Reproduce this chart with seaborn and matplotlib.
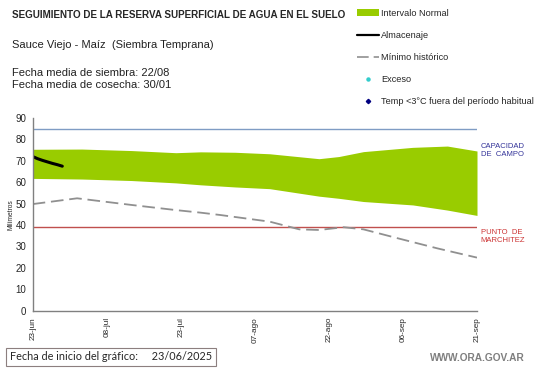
import matplotlib
matplotlib.use('Agg')
import matplotlib.pyplot as plt
from matplotlib.lines import Line2D
from matplotlib.patches import Patch
import numpy as np
import pandas as pd
import seaborn as sns

# normal range band (green)
band_dates = ['2025-06-23', '2025-07-03', '2025-07-13', '2025-07-22', '2025-07-27',
              '2025-08-03', '2025-08-10', '2025-08-20', '2025-08-24', '2025-08-29',
              '2025-09-08', '2025-09-15', '2025-09-21']
band_top = [75.4, 75.5, 74.8, 73.8, 74.2, 74.0, 73.3, 71.0, 72.0, 74.3, 76.3, 76.9, 74.6]
band_bottom = [61.8, 61.5, 60.8, 59.7, 58.8, 57.8, 57.0, 53.5, 52.5, 51.0, 49.4, 47.0, 44.5]

# historical minimum (dashed)
min_dates = ['2025-06-23', '2025-07-02', '2025-07-13', '2025-07-22', '2025-07-27',
             '2025-07-31', '2025-08-10', '2025-08-16', '2025-08-20', '2025-08-25',
             '2025-08-29', '2025-09-05', '2025-09-13', '2025-09-21']
min_values = [49.8, 52.5, 49.4, 47.0, 45.8, 44.7, 41.6, 38.0, 37.7, 39.0, 38.0, 33.8, 29.1, 24.8]

# current storage (black)
storage_dates = ['2025-06-23', '2025-06-24', '2025-06-25', '2025-06-26', '2025-06-27',
                 '2025-06-28', '2025-06-29']
storage_values = [72.0, 71.0, 70.2, 69.5, 68.8, 68.2, 67.5]

field_capacity = 85
wilting_point = 39

tick_dates = ['2025-06-23', '2025-07-08', '2025-07-23', '2025-08-07', '2025-08-22',
              '2025-09-06', '2025-09-21']
tick_labels = ['23-jun', '08-jul', '23-jul', '07-ago', '22-ago', '06-sep', '21-sep']
y_ticks = [0, 10, 20, 30, 40, 50, 60, 70, 80, 90]

sns.set_style('white')
plt.rcParams['font.family'] = ['Liberation Sans', 'DejaVu Sans']

band = pd.DataFrame({'fecha': pd.to_datetime(band_dates), 'top': band_top, 'bottom': band_bottom})
minimo = pd.DataFrame({'fecha': pd.to_datetime(min_dates), 'mm': min_values})
storage = pd.DataFrame({'fecha': pd.to_datetime(storage_dates), 'mm': storage_values})

fig = plt.figure(figsize=(5.41, 3.68), dpi=100)
ax = fig.add_axes([0.0604, 0.1557, 0.8213, 0.5236])

green = '#99cc00'
ax.fill_between(band['fecha'], band['bottom'], band['top'], color=green, lw=0)
ax.axhline(field_capacity, color='#7f9cc4', lw=1)
ax.axhline(wilting_point, color='#c0504d', lw=1)
sns.lineplot(data=minimo, x='fecha', y='mm', ax=ax, color='#909090', lw=1.3,
             linestyle=(0, (7, 3.2)))
sns.lineplot(data=storage, x='fecha', y='mm', ax=ax, color='black', lw=2.2)

ax.set_xlim(pd.Timestamp(tick_dates[0]), pd.Timestamp(tick_dates[-1]))
ax.set_ylim(0, 90)
ax.set_xticks(pd.to_datetime(tick_dates))
ax.set_xticklabels(tick_labels, rotation=90, fontsize=5.9)
ax.set_yticks(y_ticks)
ax.set_yticklabels([str(v) for v in y_ticks], fontsize=7)
ax.tick_params(axis='both', direction='out', length=3, width=0.8, color='#808080', pad=1.5)
ax.set_xlabel('')
ax.set_ylabel('Milímetros', fontsize=4.8, labelpad=1)
for side in ['top', 'right']:
    ax.spines[side].set_visible(False)
for side in ['left', 'bottom']:
    ax.spines[side].set_color('#808080')
    ax.spines[side].set_linewidth(1)

ax.text(1.008, (field_capacity - 10) / 90, 'CAPACIDAD\nDE  CAMPO', transform=ax.transAxes,
        fontsize=5.5, color='#333399', va='center', ha='left', linespacing=1.2)
ax.text(1.008, (wilting_point - 4.5) / 90, 'PUNTO  DE\nMARCHITEZ', transform=ax.transAxes,
        fontsize=5.5, color='#cc3333', va='center', ha='left', linespacing=1.2)

fig.text(12 / 541, 1 - 15 / 368, 'SEGUIMIENTO DE LA RESERVA SUPERFICIAL DE AGUA EN EL SUELO',
         fontsize=7.1, weight='bold', va='center', ha='left')
fig.text(12 / 541, 1 - 45 / 368, 'Sauce Viejo - Maíz  (Siembra Temprana)',
         fontsize=8, va='center', ha='left', color='#222222')
fig.text(12 / 541, 1 - 72.5 / 368, 'Fecha media de siembra: 22/08',
         fontsize=8, va='center', ha='left', color='#222222')
fig.text(12 / 541, 1 - 85.5 / 368, 'Fecha media de cosecha: 30/01',
         fontsize=8, va='center', ha='left', color='#222222')

handles = [
    Patch(facecolor=green, edgecolor='none'),
    Line2D([], [], color='black', lw=1.6),
    Line2D([], [], color='#909090', lw=1.2, linestyle=(0, (7, 3))),
    Line2D([], [], color='#33cccc', marker='o', markersize=2.2, linestyle='none'),
    Line2D([], [], color='#000080', marker='D', markersize=2.2, linestyle='none'),
]
labels = ['Intervalo Normal', 'Almacenaje', 'Mínimo histórico', 'Exceso',
          'Temp <3°C fuera del período habitual']
fig.legend(handles, labels, loc='upper left', bbox_to_anchor=(357 / 541, 1 - 9 / 368),
           frameon=False, fontsize=6.6, labelspacing=1.42, handlelength=2.45,
           handletextpad=0.15, handleheight=0.8, borderpad=0, borderaxespad=0)

fig.text(10 / 541, 1 - 357 / 368, 'Fecha de inicio del gráfico:     23/06/2025',
         fontsize=7.8, family=['Lato', 'DejaVu Sans'], va='center', ha='left',
         bbox=dict(boxstyle='square,pad=0.35', fc='white', ec='#8c7f7f', lw=0.8))
fig.text(525 / 541, 1 - 358 / 368, 'WWW.ORA.GOV.AR', fontsize=7.3, weight='bold',
         color='#7f7f7f', va='center', ha='right')

fig.savefig('out.png', dpi=100)
